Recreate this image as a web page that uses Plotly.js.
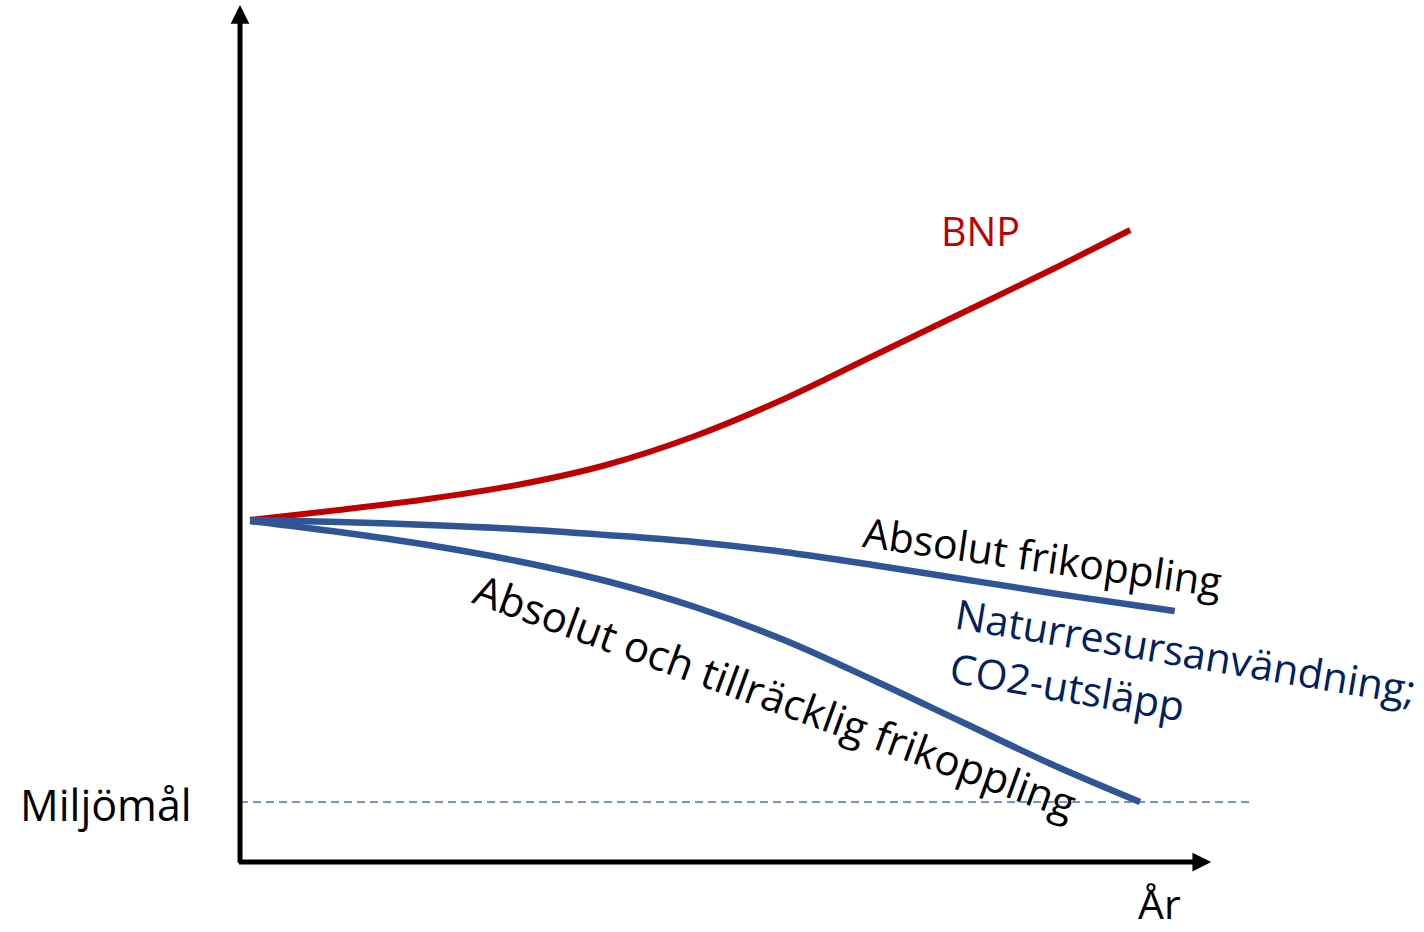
<!DOCTYPE html>
<html>
<head>
<meta charset="utf-8">
<script src="https://cdn.plot.ly/plotly-3.0.1.min.js"></script>
<style>html,body{margin:0;padding:0;background:#fff;}#chart{width:1424px;height:932px;}</style>
</head>
<body>
<div id="chart"></div>
<script>
// Years (conceptual time axis, 0 = start)
const years = [0, 1, 2, 3, 4, 5, 6, 7, 8, 9, 9.89];
const yearsFrik = [0, 1, 2, 3, 4, 5, 6, 7, 8, 9, 10, 10.39];
const yearsTill = [0, 1, 2, 3, 4, 5, 6, 7, 8, 9, 10];

// Index values (start = 100)
const bnp = [100, 102.13, 104.47, 107.45, 111.70, 117.87, 125.74, 134.89, 144.04, 153.19, 161.70];
const absolutFrikoppling = [100, 99.57, 98.94, 98.09, 96.81, 95.32, 93.19, 90.43, 87.45, 84.47, 81.70, 80.64];
const tillrackligFrikoppling = [99.79, 97.45, 94.68, 91.28, 87.02, 81.49, 74.47, 65.96, 57.02, 48.09, 40.0];
const miljomal = 40;

const labels = {
  bnp: 'BNP',
  frik: 'Absolut frikoppling',
  natur: 'Naturresursanvändning;',
  co2: 'CO2-utsläpp',
  till: 'Absolut och tillräcklig frikoppling',
  miljo: 'Miljömål',
  ar: 'År'
};

const FONT = '"Open Sans", "Noto Sans", sans-serif';

const traces = [
  {x: years, y: bnp, mode: 'lines', line: {color: '#C00000', width: 6, shape: 'spline', smoothing: 1}, hoverinfo: 'skip'},
  {x: yearsFrik, y: absolutFrikoppling, mode: 'lines', line: {color: '#2F5597', width: 6.5, shape: 'spline', smoothing: 1}, hoverinfo: 'skip'},
  {x: yearsTill, y: tillrackligFrikoppling, mode: 'lines', line: {color: '#2F5597', width: 6.5, shape: 'spline', smoothing: 1}, hoverinfo: 'skip'}
];

const axX0 = -0.112, axY0 = 27.23;

const layout = {
  width: 1424, height: 932,
  margin: {l: 0, r: 0, t: 0, b: 0},
  paper_bgcolor: '#fff', plot_bgcolor: '#fff',
  showlegend: false,
  xaxis: {range: [-2.809, 13.191], visible: false, fixedrange: true},
  yaxis: {range: [12.34, 210.64], visible: false, fixedrange: true},
  shapes: [
    {type: 'line', xref: 'x', yref: 'y', x0: axX0, x1: 11.27, y0: miljomal, y1: miljomal,
     line: {color: '#4472C4', width: 1.5, dash: '8px,5px'}, layer: 'below'}
  ],
  annotations: [
    // y axis arrow
    {x: axX0, y: 209.57, ax: axX0, ay: axY0 - 0.5, xref: 'x', yref: 'y', axref: 'x', ayref: 'y',
     showarrow: true, arrowhead: 2, arrowsize: 0.75, arrowwidth: 5, arrowcolor: '#000', text: '', standoff: 0},
    // x axis arrow
    {x: 10.80, y: axY0, ax: axX0 - 0.03, ay: axY0, xref: 'x', yref: 'y', axref: 'x', ayref: 'y',
     showarrow: true, arrowhead: 2, arrowsize: 0.75, arrowwidth: 5, arrowcolor: '#000', text: '', standoff: 0},
    {x: 8.21, y: 161.49, text: labels.bnp, showarrow: false, font: {family: FONT, size: 39.5, color: '#C00000'}},
    {x: 8.90, y: 92.3, text: labels.frik, showarrow: false, textangle: 8, font: {family: FONT, size: 41, color: '#000'}},
    {x: 10.52, y: 72.1, text: labels.natur, showarrow: false, textangle: 9.5, font: {family: FONT, size: 41, color: '#002060'}},
    {x: 9.18, y: 64.6, text: labels.co2, showarrow: false, textangle: 9.5, font: {family: FONT, size: 41, color: '#002060'}},
    {x: 5.90, y: 62.6, text: labels.till, showarrow: false, textangle: 20, font: {family: FONT, size: 42, color: '#000'}},
    {x: -1.62, y: 39.4, text: labels.miljo, showarrow: false, font: {family: FONT, size: 43, color: '#000'}},
    {x: 10.22, xref: 'x', y: 0, yref: 'paper', yanchor: 'bottom', yshift: -1, text: labels.ar, showarrow: false, font: {family: FONT, size: 41, color: '#000'}}
  ]
};

Plotly.newPlot('chart', traces, layout, {displayModeBar: false, staticPlot: true});
</script>
</body>
</html>
